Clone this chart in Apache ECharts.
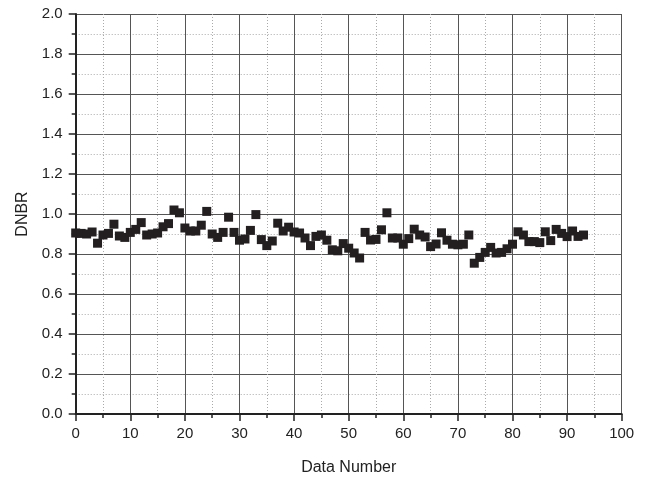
<!DOCTYPE html>
<html><head><meta charset="utf-8">
<script src="https://cdn.jsdelivr.net/npm/echarts@6/dist/echarts.min.js"></script>
<style>html,body{margin:0;padding:0;background:#fff}#c{width:645px;height:481px}</style>
</head><body><div id="c"></div>
<script>
const dataNumber = [0,1,2,3,4,5,6,7,8,9,10,11,12,13,14,15,16,17,18,19,20,21,22,23,24,25,26,27,28,29,30,31,32,33,34,35,36,37,38,39,40,41,42,43,44,45,46,47,48,49,50,51,52,53,54,55,56,57,58,59,60,61,62,63,64,65,66,67,68,69,70,71,72,73,74,75,76,77,78,79,80,81,82,83,84,85,86,87,88,89,90,91,92,93];
const dnbr = [0.905,0.903,0.900,0.910,0.854,0.895,0.903,0.949,0.890,0.883,0.908,0.923,0.957,0.895,0.900,0.905,0.936,0.952,1.020,1.006,
0.930,0.915,0.915,0.944,1.013,0.900,0.883,0.908,0.984,0.908,0.869,0.875,0.918,0.997,0.872,0.842,0.865,0.954,0.915,0.934,
0.910,0.905,0.880,0.842,0.888,0.895,0.869,0.821,0.816,0.852,0.829,0.805,0.780,0.908,0.870,0.873,0.921,1.006,0.880,0.880,
0.849,0.877,0.924,0.895,0.885,0.837,0.850,0.906,0.869,0.849,0.846,0.849,0.895,0.754,0.783,0.808,0.833,0.805,0.808,0.826,
0.849,0.911,0.895,0.862,0.862,0.857,0.911,0.867,0.923,0.903,0.887,0.915,0.888,0.895];
const xTicks = [0,10,20,30,40,50,60,70,80,90,100];
const yTicks = [0.0,0.2,0.4,0.6,0.8,1.0,1.2,1.4,1.6,1.8,2.0];

const chart = echarts.init(document.getElementById('c'), null, {renderer:'canvas'});
const font = 'Liberation Sans, Arial, sans-serif';
chart.setOption({
  animation:false,
  backgroundColor:'#fff',
  grid:{left:75.7, right:23.3, top:14, bottom:61, show:false},
  xAxis:{
    type:'value', min:xTicks[0], max:xTicks[xTicks.length-1], interval:10,
    name:'Data Number', nameLocation:'middle', nameGap:46,
    nameTextStyle:{fontFamily:font, fontSize:16, color:'#222'},
    axisLine:{show:true, onZero:false, lineStyle:{color:'#222', width:2}},
    axisTick:{show:true, inside:false, length:7, lineStyle:{color:'#222', width:1.5}},
    minorTick:{show:true, splitNumber:2, length:4, lineStyle:{color:'#222', width:1.5}},
    axisLabel:{fontFamily:font, fontSize:15, color:'#222', margin:12},
    splitLine:{show:true, lineStyle:{color:'#555', width:1}},
    minorSplitLine:{show:true, lineStyle:{color:'#aaa', width:1, type:[1,2]}}
  },
  yAxis:{
    type:'value', min:yTicks[0], max:yTicks[yTicks.length-1], interval:0.2,
    name:'DNBR', nameLocation:'middle', nameGap:45, nameRotate:90,
    nameTextStyle:{fontFamily:font, fontSize:16, color:'#222'},
    axisLine:{show:true, onZero:false, lineStyle:{color:'#222', width:2}},
    axisTick:{show:true, inside:false, length:7, lineStyle:{color:'#222', width:1.5}},
    minorTick:{show:true, splitNumber:2, length:4, lineStyle:{color:'#222', width:1.5}},
    axisLabel:{fontFamily:font, fontSize:15, color:'#222', margin:13, formatter:v=>v.toFixed(1)},
    splitLine:{show:true, lineStyle:{color:'#555', width:1}},
    minorSplitLine:{show:true, lineStyle:{color:'#aaa', width:1, type:[1,2]}}
  },
  series:[{
    type:'scatter', symbol:'rect', symbolSize:9,
    itemStyle:{color:'#231f20', opacity:1},
    data: dataNumber.map((x,i)=>[x, dnbr[i]])
  }]
});
</script></body></html>
